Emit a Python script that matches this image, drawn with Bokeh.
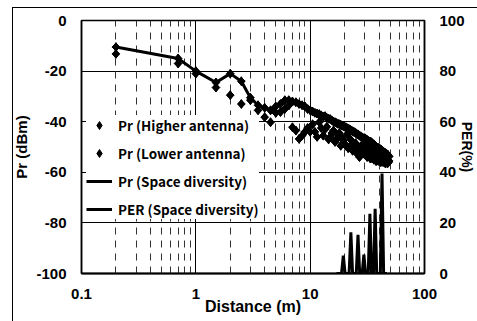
import math
from bokeh.plotting import figure
from bokeh.models import (Range1d, LinearAxis, FixedTicker, Grid, Legend, LegendItem,
                          CustomJSTickFormatter)
from bokeh.embed import file_html
from bokeh.resources import INLINE

# ---------------- data ----------------
distance = [0.2, 0.7, 1.0, 1.5, 2.0, 2.5, 3.0, 3.5, 4.0, 4.5,
            5.0, 5.5, 6.0, 6.5, 7.0, 7.5, 8.0, 8.5, 9.0, 9.5,
            10.0, 10.5, 11.0, 11.5, 12.0, 12.5, 13.0, 13.5, 14.0, 14.5,
            15.0, 15.5, 16.0, 16.5, 17.0, 17.5, 18.0, 18.5, 19.0, 19.5,
            20.0, 20.5, 21.0, 21.5, 22.0, 22.5, 23.0, 23.5, 24.0, 24.5,
            25.0, 25.5, 26.0, 26.5, 27.0, 27.5, 28.0, 28.5, 29.0, 29.5,
            30.0, 30.5, 31.0, 31.5, 32.0, 32.5, 33.0, 33.5, 34.0, 34.5,
            35.0, 35.5, 36.0, 36.5, 37.0, 37.5, 38.0, 38.5, 39.0, 39.5,
            40.0, 40.5, 41.0, 41.5, 42.0, 42.5, 43.0, 43.5, 44.0, 44.5,
            45.0, 45.5, 46.0, 46.5, 47.0, 47.5, 48.0, 48.5, 49.0]

pr_higher = [-10.5, -15.0, -20.0, -24.5, -21.0, -24.0, -30.5, -33.5, -38.2, -35.5,
             -36.5, -33.0, -31.5, -33.6, -32.0, -43.5, -33.0, -33.5, -44.0, -35.0,
             -35.5, -41.0, -36.5, -36.8, -40.2, -42.5, -38.0, -37.8, -42.0, -38.8,
             -39.0, -44.5, -43.5, -40.2, -40.5, -45.5, -41.0, -41.2, -46.5, -41.8,
             -42.0, -49.5, -45.0, -42.8, -43.0, -47.0, -47.5, -43.8, -44.0, -49.0,
             -48.5, -44.8, -45.0, -50.0, -54.0, -45.8, -46.0, -52.5, -51.5, -46.6,
             -46.5, -52.0, -49.0, -47.2, -47.5, -51.5, -51.0, -47.9, -48.0, -53.0,
             -52.5, -48.8, -49.0, -52.0, -50.5, -49.8, -50.0, -54.0, -53.0, -50.4,
             -50.5, -54.0, -52.5, -51.0, -51.2, -54.5, -53.5, -51.8, -52.0, -55.0,
             -54.5, -52.4, -52.6, -55.5, -55.0, -53.0, -53.2, -56.0, -55.5]

pr_lower = [-13.2, -17.0, -21.0, -26.5, -29.5, -33.0, -31.5, -35.5, -34.5, -40.2,
            -34.0, -36.2, -35.0, -31.5, -42.2, -32.3, -46.8, -45.5, -34.0, -42.5,
            -44.0, -36.0, -44.0, -46.0, -37.0, -37.5, -45.5, -43.0, -38.5, -47.0,
            -46.0, -39.5, -40.0, -48.0, -47.0, -40.8, -44.5, -49.5, -41.5, -47.5,
            -48.7, -42.2, -42.5, -50.5, -50.0, -43.2, -43.5, -51.5, -51.0, -44.2,
            -44.5, -52.5, -52.0, -45.2, -45.5, -51.0, -49.5, -46.2, -46.5, -50.5,
            -53.0, -46.8, -47.0, -54.0, -53.5, -47.7, -48.0, -54.5, -54.5, -48.3,
            -48.5, -54.0, -55.0, -49.2, -49.5, -55.5, -55.5, -50.2, -50.3, -55.5,
            -55.0, -50.7, -50.9, -56.0, -55.5, -51.4, -51.6, -56.0, -55.5, -52.2,
            -52.3, -56.5, -56.0, -52.8, -52.9, -56.5, -56.0, -53.5, -53.8]

pr_diversity = [-10.5, -15.0, -20.0, -24.5, -21.0, -24.0, -30.5, -33.5, -34.5, -35.5,
                -34.0, -33.0, -31.5, -31.5, -32.0, -32.3, -33.0, -33.5, -34.0, -35.0,
                -35.5, -36.0, -36.5, -36.8, -37.0, -37.5, -38.0, -37.8, -38.5, -38.8,
                -39.0, -39.5, -40.0, -40.2, -40.5, -40.8, -41.0, -41.2, -41.5, -41.8,
                -42.0, -42.2, -42.5, -42.8, -43.0, -43.2, -43.5, -43.8, -44.0, -44.2,
                -44.5, -44.8, -45.0, -45.2, -45.5, -45.8, -46.0, -46.2, -46.5, -46.6,
                -46.5, -46.8, -47.0, -47.2, -47.5, -47.7, -48.0, -47.9, -48.0, -48.3,
                -48.5, -48.8, -49.0, -49.2, -49.5, -49.8, -50.0, -50.2, -50.3, -50.4,
                -50.5, -50.7, -50.9, -51.0, -51.2, -51.4, -51.6, -51.8, -52.0, -52.2,
                -52.3, -52.4, -52.6, -52.8, -52.9, -53.0, -53.2, -53.5, -53.8]

per_distance = [17, 18.8, 19.5, 20.2, 21.9, 22.7, 23.5, 25.3, 26.2, 27.1, 28.5, 29.5,
                30.5, 32.2, 33.3, 34.4, 35.8, 37.0, 38.2, 41.1, 42.5, 43.9, 47]
per_value = [0, 0, 7.1, 0, 0, 16.3, 0, 0, 15.3, 0, 0, 7.5,
             0, 0, 23.6, 0, 0, 25.6, 0, 0, 39.5, 0, 0]

x_ticks = [0.1, 1, 10, 100]
x_major_grid = [1, 10]
x_minor_grid = [0.2, 0.3, 0.4, 0.5, 0.6, 0.7, 0.8, 0.9,
                2, 3, 4, 5, 6, 7, 8, 9,
                20, 30, 40, 50, 60, 70, 80, 90]
pr_ticks = [-100, -80, -60, -40, -20, 0]
pr_grid = [-80, -60, -40, -20]
per_ticks = [0, 20, 40, 60, 80, 100]

labels = ["Pr (Higher antenna)", "Pr (Lower antenna)",
          "Pr (Space diversity)", "PER (Space diversity)"]

# ---------------- figure ----------------
TICK_FONT = "Liberation Sans"
LEG_FONT = "Noto Sans CJK JP"

p = figure(width=477, height=321, x_axis_type="log",
           x_range=Range1d(0.1, 100), y_range=Range1d(-100, 0),
           output_backend="svg", toolbar_location=None,
           min_border_left=81, min_border_right=47,
           min_border_top=20, min_border_bottom=48)
p.extra_y_ranges = {"per": Range1d(0, 100)}
p.background_fill_color = "white"
p.border_fill_color = None
p.outline_line_color = "black"
p.outline_line_width = 1.5
# thin outer frame of the original figure (left and top edges)
p.styles = {"background": "linear-gradient(#000,#000) 12px 7px / 1px 314px no-repeat, "
                          "linear-gradient(#000,#000) 12px 7px / 465px 1px no-repeat, #fff"}

# grids
p.xgrid.ticker = FixedTicker(ticks=x_major_grid)
p.xgrid.grid_line_color = "black"
p.xgrid.grid_line_width = 1
p.ygrid.ticker = FixedTicker(ticks=pr_grid)
p.ygrid.grid_line_color = "black"
p.ygrid.grid_line_width = 1
minor = Grid(dimension=0, ticker=FixedTicker(ticks=x_minor_grid),
             grid_line_color="#333333", grid_line_width=1, grid_line_dash="7 6")
p.add_layout(minor)

# axes
xa = p.xaxis[0]
xa.ticker = FixedTicker(ticks=x_ticks)
xa.formatter = CustomJSTickFormatter(code="return tick < 1 ? tick.toFixed(1) : tick.toFixed(0);")
xa.major_label_standoff = 15
xa.axis_label = "Distance (m)"
xa.axis_label_standoff = -4
ya = p.yaxis[0]
ya.ticker = FixedTicker(ticks=pr_ticks)
ya.formatter = CustomJSTickFormatter(code="return tick.toFixed(0);")
ya.major_label_standoff = 15
ya.axis_label = "Pr (dBm)"
ya.axis_label_standoff = 3
ra = LinearAxis(y_range_name="per", ticker=FixedTicker(ticks=per_ticks),
                formatter=CustomJSTickFormatter(code="return tick.toFixed(0);"))
ra.major_label_standoff = 15
ra.axis_label = "PER(%)"
ra.axis_label_standoff = -9
p.add_layout(ra, "right")

for ax in [xa, ya, ra]:
    ax.major_tick_in = 0
    ax.major_tick_out = 0
    ax.minor_tick_in = 0
    ax.minor_tick_out = 0
    ax.axis_line_color = "black"
    ax.axis_line_width = 1.5
    ax.major_label_text_font = TICK_FONT
    ax.major_label_text_font_size = "15px"
    ax.major_label_text_font_style = "bold"
    ax.major_label_text_color = "black"
    ax.axis_label_text_font = TICK_FONT
    ax.axis_label_text_font_size = "15px"
    ax.axis_label_text_font_style = "bold"
    ax.axis_label_text_color = "black"
xa.axis_line_width = 2
xa.axis_label_text_font_size = "16px"
ra.axis_label_text_font_size = "14px"

# data renderers: each point is a diamond, widened by a square turned 45 degrees
r_hi = p.scatter(distance, pr_higher, marker="diamond", size=9,
                 fill_color="black", line_color="black", line_width=1)
p.scatter(distance, pr_higher, marker="square", size=5.5, angle=math.pi / 4,
          fill_color="black", line_color="black", line_width=1)
r_lo = p.scatter(distance, pr_lower, marker="diamond", size=9,
                 fill_color="black", line_color="black", line_width=1)
p.scatter(distance, pr_lower, marker="square", size=5.5, angle=math.pi / 4,
          fill_color="black", line_color="black", line_width=1)
r_sd = p.line(distance, pr_diversity, line_color="black", line_width=3,
              line_join="round")
r_per = p.line(per_distance, per_value, y_range_name="per", line_color="black",
               line_width=3, line_join="miter")

legend = Legend(items=[LegendItem(label=labels[0], renderers=[r_hi]),
                       LegendItem(label=labels[1], renderers=[r_lo]),
                       LegendItem(label=labels[2], renderers=[r_sd]),
                       LegendItem(label=labels[3], renderers=[r_per])],
                location=(5, 54), padding=3, spacing=8, margin=0,
                glyph_width=26, glyph_height=20, label_height=20,
                label_standoff=6, label_text_font=LEG_FONT,
                label_text_font_size="13.5px", label_text_font_style="bold",
                label_text_color="black",
                background_fill_color="white", background_fill_alpha=1.0,
                border_line_color=None)
p.add_layout(legend, "center")

open("out.html", "w").write(file_html(p, INLINE))
